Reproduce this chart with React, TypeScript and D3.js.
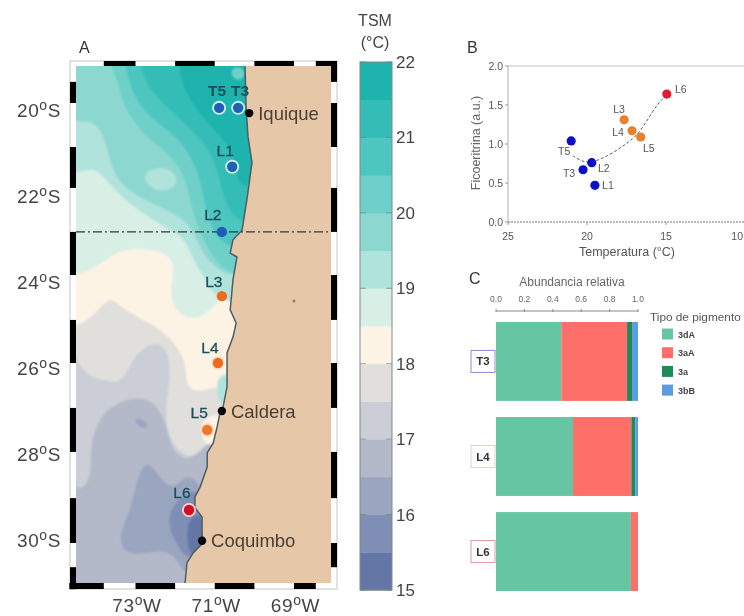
import React from "react";
import * as d3 from "d3";

type P = [number, number];

// ---------- Panel A: sea surface temperature ----------
const tsmLevels = [15, 15.5, 16, 16.5, 17, 17.5, 18, 18.5, 19, 19.5, 20, 20.5, 21, 21.5];
const tsmColors = ["#6476a6", "#7f8eb4", "#9aa5c0", "#b3b9c8", "#cbced6", "#e0dfdc", "#fdf3e5", "#d8efe6", "#b0e3dc", "#8cd8d0", "#6fd0c9", "#4cc6bf", "#33bdb6", "#1eb3ad"];
const tsmTicks = [15, 16, 17, 18, 19, 20, 21, 22];

const cornerNE: P = [69.86, 19.02];
const cornerNW: P = [74.91, 19.02];
const NE: P[] = [cornerNE, cornerNE, cornerNE];
const topRow: P[] = [cornerNE, cornerNE, cornerNE, cornerNW, cornerNW, cornerNW];

const ring17: P[] = [[74.91, 28.73], [74.28, 28.84], [74.1, 28.34], [74.15, 27.89], [74.0, 27.32], [73.64, 26.86], [72.89, 26.64], [72.43, 26.86], [72.18, 27.43], [72.08, 27.93], [71.62, 28.16], [71.24, 27.77], [70.99, 27.43], [69.86, 27.43], ...topRow];
const ring175: P[] = [[74.91, 26.02], [73.82, 26.3], [73.32, 26.41], [73.01, 25.66], [72.46, 25.39], [72.13, 25.68], [72.13, 26.36], [72.26, 26.98], [72.18, 27.66], [71.62, 28.16], [71.24, 27.77], [70.99, 27.66], [69.86, 27.66], ...topRow];
const ring18: P[] = [[74.91, 25.09], [74.48, 25.09], [74.07, 24.86], [73.64, 24.36], [73.39, 24.64], [72.81, 24.93], [72.2, 25.23], [71.7, 25.84], [71.75, 26.41], [71.45, 26.59], [71.04, 26.45], [69.86, 26.45], ...topRow];
const ring185: P[] = [[74.91, 23.95], [74.48, 23.95], [73.82, 23.64], [73.32, 23.27], [72.31, 23.34], [71.95, 23.64], [72.2, 24.41], [71.8, 24.93], [71.24, 24.89], [70.74, 24.25], [69.86, 24.25], ...topRow];
const ring19: P[] = [[74.91, 21.7], [74.28, 21.52], [73.97, 21.48], [73.64, 21.86], [73.27, 22.2], [72.76, 22.55], [72.2, 22.84], [71.75, 23.07], [71.55, 23.57], [71.24, 23.98], [70.99, 24.48], [69.86, 24.7], ...topRow];
const ring195: P[] = [[74.91, 20.5], [74.02, 20.34], [73.77, 20.84], [73.59, 21.52], [73.27, 21.98], [72.38, 22.36], [71.62, 22.7], [71.42, 23.23], [70.99, 23.84], [69.86, 24.14], ...topRow];
const ring20: P[] = [[73.69, 19.02], [73.69, 19.02], [73.44, 19.48], [73.34, 20.05], [72.71, 20.84], [72.13, 21.14], [71.7, 21.75], [71.62, 22.32], [71.37, 22.93], [71.07, 23.52], [70.61, 23.91], [69.86, 23.91], ...NE];
const ring205: P[] = [[73.27, 19.02], [73.27, 19.02], [73.14, 19.66], [72.76, 20.27], [71.8, 20.84], [71.37, 21.64], [71.19, 22.59], [70.92, 23.11], [70.49, 23.34], [69.86, 23.34], ...NE];
const ring21: P[] = [[72.89, 19.02], [72.89, 19.02], [72.76, 19.59], [72.13, 20.16], [71.37, 20.77], [70.99, 21.3], [70.82, 21.98], [70.61, 22.55], [70.11, 22.77], [69.86, 22.77], ...NE];
const ring215: P[] = [[71.88, 19.02], [71.88, 19.02], [71.88, 19.59], [71.24, 20.43], [70.66, 20.89], [70.41, 21.52], [70.46, 21.86], [69.86, 21.98], ...NE];
const swirl: P[] = [[72.89, 21.57], [72.26, 21.41], [71.88, 21.7], [72.08, 22.02], [72.63, 21.98]];
const coldA: P[] = [[72.68, 28.07], [72.96, 28.5], [73.09, 29.18], [73.52, 30.0], [73.06, 30.34], [72.2, 30.09], [71.88, 30.5], [71.7, 30.73], [71.37, 30.39], [71.12, 29.02], [71.37, 28.68], [71.7, 28.39], [72.0, 28.8], [72.38, 28.57]];
const coldB: P[] = [[71.5, 28.75], [71.88, 28.98], [72.13, 29.25], [72.18, 29.66], [71.93, 30.05], [71.72, 30.39], [71.24, 30.27], [71.12, 29.02]];
const coldC: P[] = [[71.57, 29.36], [71.72, 29.7], [71.67, 30.11], [71.57, 30.3], [71.24, 30.16], [71.24, 29.36]];
const spot: P[] = [[73.09, 27.16], [72.76, 27.2], [72.66, 27.39], [72.89, 27.39]];
const haloL5: P[] = [[71.37, 27.16], [70.82, 27.02], [70.82, 27.43], [71.07, 27.84], [71.32, 27.7]];
const stripL4: P[] = [[70.99, 26.25], [70.61, 26.07], [70.61, 26.86], [70.92, 26.86]];
const patchNorth: P[] = [[70.61, 19.18], [70.24, 19.18], [70.24, 19.48], [70.56, 19.48]];

const sstPatches: [number, P[]][] = [
  [17, ring17], [17.5, ring175], [18, ring18], [18.5, ring185], [19, ring19], [19.5, ring195],
  [20, ring20], [20.5, ring205], [21, ring21], [21.5, ring215], [19, swirl], [16, coldA],
  [15.5, coldB], [15, coldC], [16, spot], [18, haloL5], [19, stripL4], [20, patchNorth],
];

const coast: P[] = [[70.24, 19.0], [70.235, 19.18], [70.21, 20.09], [70.16, 20.77], [70.06, 21.36], [70.18, 22.14], [70.31, 22.89], [70.54, 23.11], [70.61, 23.41], [70.44, 23.5], [70.54, 24.02], [70.61, 24.7], [70.46, 25.0], [70.54, 25.32], [70.69, 25.68], [70.69, 26.45], [70.79, 26.91], [70.87, 27.05], [70.94, 27.36], [71.04, 27.73], [71.19, 27.95], [71.19, 28.27], [71.37, 28.73], [71.5, 28.95], [71.5, 29.2], [71.32, 29.41], [71.32, 29.77], [71.3, 30.0], [71.55, 30.23], [71.7, 30.45], [71.75, 30.91], [71.75, 31.2]];
const landEast: P[] = [[67.9, 31.2], [67.9, 19.0]];

const stations = ["T5", "T3", "L1", "L2", "L3", "L4", "L5", "L6"];
const stationLon = [70.89, 70.41, 70.56, 70.82, 70.82, 70.92, 71.19, 71.65];
const stationLat = [20.11, 20.11, 21.45, 22.93, 24.39, 25.91, 27.43, 29.25];
const stationFill = ["#1f62b4", "#1f62b4", "#1f62b4", "#1f5cb8", "#ee6a1f", "#ee6a1f", "#f0762a", "#cf0f25"];
const stationHalo = ["#d3f3f3", "#bfeeee", "#d3f3f3", "none", "none", "#fbe3cc", "#fbdcc2", "#f7d3d3"];
const stationLabelDx = [-2, 2, -7, -9, -8, -8, -8, -7];
const stationLabelDy = [-17, -17, -16, -17, -15, -16, -17, -18];

const cities = ["Iquique", "Caldera", "Coquimbo"];
const cityLon = [70.13, 70.82, 71.32];
const cityLat = [20.23, 27.0, 29.95];

const latTicks = [20, 22, 24, 26, 28, 30];
const lonTicks = [73, 71, 69];
const latEdges = [19.05, 19.52, 20, 21, 21.93, 22.93, 23.91, 24.93, 25.91, 26.93, 27.93, 28.98, 30, 30.55, 31.05];
const lonEdges = [74.67, 73.8, 73, 72, 71, 70, 69, 68.45, 67.92];
const frontLat = 22.93;
const islandPoint: P = [69.0, 24.5];

// ---------- Panel B ----------
const bNames = ["T5", "T3", "L2", "L1", "L3", "L4", "L5", "L6"];
const bTemp = [21.0, 20.25, 19.7, 19.5, 17.65, 17.15, 16.6, 14.95];
const bPhyco = [1.04, 0.67, 0.76, 0.47, 1.31, 1.17, 1.09, 1.64];
const bColors = ["#0a10c8", "#0a10c8", "#0a10c8", "#0a10c8", "#e8802e", "#e8802e", "#e8802e", "#e01a30"];
const bLabelDx = [-7, -14, 12, 13, -5, -14, 8, 14];
const bLabelDy = [11, 4, 6, 0, -10, 2, 12, -5];
const fitTemp = [20.9, 20.25, 19.6, 19, 17.9, 16.85, 15.55, 15.1];
const fitPhyco = [0.85, 0.78, 0.78, 0.82, 0.95, 1.12, 1.5, 1.6];
const bXTicks = [25, 20, 15, 10];
const bYTicks = [0, 0.5, 1, 1.5, 2];

// ---------- Panel C ----------
const pigments = ["3dA", "3aA", "3a", "3bB"];
const pigmentColors = ["#66c5a3", "#ff6f69", "#1e8a5a", "#5b9be0"];
const cSamples = ["T3", "L4", "L6"];
const cBorder = ["#8f8dcf", "#eccfc0", "#dc9a9a"];
const v3dA = [0.46, 0.542, 0.95];
const v3aA = [0.463, 0.411, 0.05];
const v3a = [0.035, 0.028, 0];
const v3bB = [0.042, 0.019, 0];
const cTicks = [0, 0.2, 0.4, 0.6, 0.8, 1];

const FONT = "'Liberation Sans', Arial, sans-serif";

function Degree({ t, unit, ...rest }: any) {
  return (
    <text fontSize={19} fill="#444" letterSpacing={0.6} {...rest}>
      {t}<tspan dy={-7} fontSize={14}>o</tspan><tspan dy={7}>{unit}</tspan>
    </text>
  );
}

export default function App() {
  const lon = d3.scaleLinear().domain([73, 69]).range([135.5, 294]);
  const lat = d3.scaleLinear().domain([20, 30]).range([103, 543]);
  const latLabel = d3.scaleLinear().domain([20, 30]).range([110, 540]);
  const project = (p: P): [number, number] => [lon(p[0]), lat(p[1])];
  const smooth = d3.line<P>().x((d) => lon(d[0])).y((d) => lat(d[1])).curve(d3.curveBasisClosed);
  const poly = (pts: P[]) => "M" + pts.map((p) => project(p).join(",")).join("L") + "Z";
  const colorOf = d3.scaleOrdinal<number, string>().domain(tsmLevels).range(tsmColors);

  const left = 76, right = 331, top = 66, bottom = 583;
  const oL = 70, oR = 337, oT = 61, oB = 589;

  const bar = d3.scaleLinear().domain([15, 22]).range([590, 62]);

  const bx = d3.scaleLinear().domain([25, 10]).range([508, 745]);
  const by = d3.scaleLinear().domain([0, 2]).range([222, 66]);
  const fit = d3.line<number>().x((d) => bx(d)).y((_, i) => by(fitPhyco[i])).curve(d3.curveCatmullRom);

  const cx = d3.scaleLinear().domain([0, 1]).range([496, 638]);
  const cy = d3.scaleBand<string>().domain(cSamples).range([322, 591]).paddingInner(0.17);
  const stack = d3.stack<number>().keys(["0", "1", "2", "3"]).value((_, k) => [v3dA, v3aA, v3a, v3bB][+k][_]);
  const layers = stack(cSamples.map((_, i) => i));

  return (
    <svg width={744} height={616} viewBox="0 0 744 616"
      style={{ position: "absolute", left: 0, top: 0, display: "block", background: "#fff", filter: "blur(0.6px)" }}
      fontFamily={FONT}>
      <defs>
        <clipPath id="oceanClip"><rect x={left} y={top} width={right - left} height={bottom - top} /></clipPath>
      </defs>

      {/* Panel A */}
      <text x={79} y={53} fontSize={16} fill="#333">A</text>
      <rect x={oL} y={oT} width={oR - oL} height={oB - oT} fill="#fff" stroke="#c4c4c4" strokeWidth={1} />
      <g clipPath="url(#oceanClip)">
        <g style={{ filter: "blur(1px)" }}>
          <rect x={left - 5} y={top - 5} width={right - left + 10} height={bottom - top + 10} fill={colorOf(16.5)} />
          {sstPatches.map(([lvl, ring], i) => (
            <path key={i} d={smooth(ring) as string} fill={colorOf(lvl)} />
          ))}
        </g>
        <path d={poly([...coast, ...landEast])} fill="#e6c8a8" />
        <path d={"M" + coast.map((p) => project(p).join(",")).join("L")} fill="none" stroke="#4f5d60" strokeWidth={1.5} />
        <circle cx={lon(islandPoint[0])} cy={lat(islandPoint[1])} r={1.5} fill="#8a7f72" />
      </g>
      {latEdges.slice(0, -1).map((e, i) => (
        <g key={i}>
          <rect x={oL} y={lat(e)} width={6} height={lat(latEdges[i + 1]) - lat(e)} fill={i % 2 === 1 ? "#000" : "none"} />
          <rect x={oR - 6} y={lat(e)} width={6} height={lat(latEdges[i + 1]) - lat(e)} fill={i % 2 === 0 ? "#000" : "none"} />
        </g>
      ))}
      {lonEdges.slice(0, -1).map((e, i) => (
        <g key={i}>
          <rect x={lon(e)} y={oT} width={lon(lonEdges[i + 1]) - lon(e)} height={5} fill={i % 2 === 1 ? "#000" : "none"} />
          <rect x={lon(e)} y={oB - 6} width={lon(lonEdges[i + 1]) - lon(e)} height={6} fill={i % 2 === 0 ? "#000" : "none"} />
        </g>
      ))}
      <line x1={left} x2={right} y1={lat(frontLat)} y2={lat(frontLat)} stroke="#2f3a3a" strokeWidth={1.3} strokeDasharray="9 3 2 3" />

      {latTicks.map((t) => (
        <Degree key={t} t={t} unit="S" x={17} y={latLabel(t) + 7} />
      ))}
      {lonTicks.map((t) => (
        <Degree key={t} t={t} unit="W" x={lon(t) + 1.5} y={611.5} textAnchor="middle" />
      ))}

      {stations.map((s, i) => (
        <g key={s}>
          {stationHalo[i] !== "none" && <circle cx={lon(stationLon[i])} cy={lat(stationLat[i])} r={7} fill={stationHalo[i]} />}
          <circle cx={lon(stationLon[i])} cy={lat(stationLat[i])} r={5.2} fill={stationFill[i]} />
          <text x={lon(stationLon[i]) + stationLabelDx[i]} y={lat(stationLat[i]) + stationLabelDy[i] + 5.5} fontSize={15.5}
            fontWeight={i < 2 ? 700 : 400} stroke={i < 2 ? "none" : "#17505c"} strokeWidth={0.3} fill="#17505c" textAnchor="middle">{s}</text>
        </g>
      ))}
      {cities.map((c, i) => (
        <g key={c}>
          <circle cx={lon(cityLon[i])} cy={lat(cityLat[i])} r={4.2} fill="#050505" />
          <text x={lon(cityLon[i]) + 9} y={lat(cityLat[i]) + 6.5} fontSize={18.5} fill="#4a3f35">{c}</text>
        </g>
      ))}

      {/* Colour bar */}
      <text x={375} y={26} fontSize={16} fill="#444" textAnchor="middle">TSM</text>
      <text x={375} y={48} fontSize={16} fill="#444" textAnchor="middle">(°C)</text>
      {tsmLevels.map((l, i) => (
        <rect key={l} x={360} y={bar(l + 0.5)} width={32} height={bar(l) - bar(l + 0.5) + 0.5} fill={tsmColors[i]} />
      ))}
      <rect x={360} y={62} width={32} height={528} fill="none" stroke="#7f8a8c" strokeWidth={1} />
      {tsmTicks.map((t) => (
        <g key={t}>
          <line x1={360} x2={366} y1={bar(t)} y2={bar(t)} stroke="#6f7a7c" strokeOpacity={0.6} />
          <line x1={386} x2={392} y1={bar(t)} y2={bar(t)} stroke="#6f7a7c" strokeOpacity={0.6} />
          <text x={396} y={bar(t) + 6} fontSize={17} fill="#444">{t}</text>
        </g>
      ))}

      {/* Panel B */}
      <text x={467} y={53} fontSize={16} fill="#333">B</text>
      <line x1={508} x2={744} y1={66} y2={66} stroke="#c4c4c4" />
      <line x1={508} x2={508} y1={66} y2={222} stroke="#b0b0b0" />
      <line x1={508} x2={744} y1={222} y2={222} stroke="#777" strokeDasharray="2 1" />
      {bYTicks.map((t) => (
        <g key={t}>
          <line x1={505} x2={508} y1={by(t)} y2={by(t)} stroke="#999" />
          <text x={503} y={by(t) + 3.5} fontSize={10.5} fill="#555" textAnchor="end">{t.toFixed(1)}</text>
        </g>
      ))}
      {bXTicks.map((t) => (
        <g key={t}>
          <line x1={bx(t)} x2={bx(t)} y1={222} y2={225} stroke="#999" />
          <text x={t === 10 ? 743 : bx(t)} y={240} fontSize={10.5} fill="#555" textAnchor={t === 10 ? "end" : "middle"}>{t}</text>
        </g>
      ))}
      <text transform="translate(480,143) rotate(-90)" fontSize={12.5} fill="#666" textAnchor="middle">Ficoeritrina (a.u.)</text>
      <text x={627} y={256} fontSize={12.5} fill="#555" textAnchor="middle">Temperatura (°C)</text>
      <path d={fit(fitTemp) as string} fill="none" stroke="#55606e" strokeWidth={1} strokeDasharray="3 2" />
      {bNames.map((n, i) => (
        <g key={n}>
          <circle cx={bx(bTemp[i])} cy={by(bPhyco[i])} r={4.6} fill={bColors[i]} />
          <text x={bx(bTemp[i]) + bLabelDx[i]} y={by(bPhyco[i]) + bLabelDy[i] + 3.5} fontSize={10.5} fill="#555" textAnchor="middle">{n}</text>
        </g>
      ))}

      {/* Panel C */}
      <text x={469} y={284} fontSize={16} fill="#333">C</text>
      <text x={572} y={286} fontSize={12} fill="#666" textAnchor="middle">Abundancia relativa</text>
      {cTicks.map((t) => (
        <g key={t}>
          <text x={cx(t)} y={302} fontSize={8.5} fill="#666" textAnchor="middle">{t.toFixed(1)}</text>
          <line x1={cx(t)} x2={cx(t)} y1={309} y2={312} stroke="#888" />
        </g>
      ))}
      <line x1={cx(0)} x2={cx(1)} y1={311} y2={311} stroke="#888" />
      {layers.map((layer, k) => layer.map((seg, i) => (
        seg[1] - seg[0] > 0 ? (
          <rect key={k + "-" + i} x={cx(seg[0])} y={cy(cSamples[i])} width={cx(seg[1]) - cx(seg[0])} height={cy.bandwidth()} fill={pigmentColors[k]} />
        ) : null
      )))}
      {cSamples.map((s, i) => (
        <g key={s}>
          <rect x={471} y={(cy(s) as number) + cy.bandwidth() / 2 - 11} width={24} height={22} fill="#fff" stroke={cBorder[i]} />
          <text x={483} y={(cy(s) as number) + cy.bandwidth() / 2 + 4} fontSize={11.5} fontWeight={700} fill="#333" textAnchor="middle">{s}</text>
        </g>
      ))}
      <text x={650} y={321} fontSize={11.8} fill="#555">Tipo de pigmento</text>
      {pigments.map((p, i) => (
        <g key={p}>
          <rect x={662} y={328.5 + i * 18.7} width={11} height={11} fill={pigmentColors[i]} />
          <text x={678} y={337.5 + i * 18.7} fontSize={9} fontWeight={700} fill="#444">{p}</text>
        </g>
      ))}
    </svg>
  );
}
